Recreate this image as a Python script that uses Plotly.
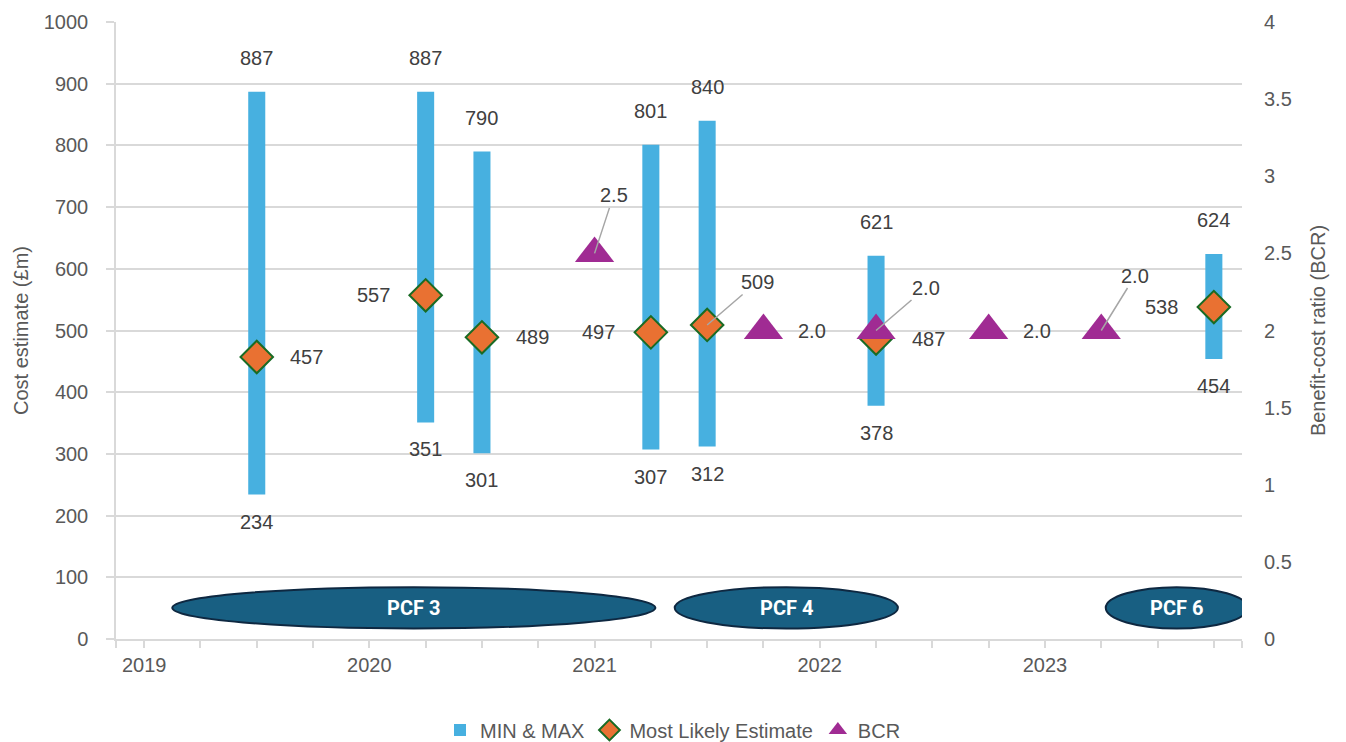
import plotly.graph_objects as go

# ---- data ---------------------------------------------------------------
# Estimate dates as decimal years (quarter steps)
estimate_x = [2019.5, 2020.25, 2020.5, 2021.25, 2021.5, 2022.25, 2023.75]
cost_min = [234, 351, 301, 307, 312, 378, 454]
cost_max = [887, 887, 790, 801, 840, 621, 624]
most_likely = [457, 557, 489, 497, 509, 487, 538]

bcr_x = [2021.0, 2021.75, 2022.25, 2022.75, 2023.25]
bcr_values = [2.5, 2.0, 2.0, 2.0, 2.0]

year_ticks = [2019, 2020, 2021, 2022, 2023]

pcf_labels = ["PCF 3", "PCF 4", "PCF 6"]
pcf_start = [2019.125, 2021.356, 2023.27]
pcf_end = [2021.27, 2022.347, 2023.9]

# ---- styling ------------------------------------------------------------
FONT = "Liberation Sans, Arial, sans-serif"
AXIS_GREY = "#595959"
LABEL_GREY = "#404040"
GRID = "#D9D9D9"
BAR_BLUE = "#47B0E0"
ORANGE = "#E97132"
GREEN = "#196B24"
PURPLE = "#A02B93"
TEAL = "#185F82"
NAVY = "#0E2841"

X_RANGE = [2018.875, 2023.875]

# label offsets in pixels (dx, dy, leader line?)
likely_offsets = [(50, 0, False), (-52, 0, False), (51, 0, False), (-52, 0, False),
                  (50, -43, True), (52, 0, False), (-52, 0, False)]
bcr_offsets = [(19, -58, True), (49, 0, False), (50, -43, True), (48, 0, False),
               (34, -55, True)]

fig = go.Figure()

fig.add_trace(go.Bar(
    x=estimate_x,
    y=[hi - lo for lo, hi in zip(cost_min, cost_max)],
    base=cost_min,
    width=0.0757,
    marker=dict(color=BAR_BLUE, line=dict(width=0)),
    name="MIN & MAX",
    hoverinfo="skip",
))

fig.add_trace(go.Scatter(
    x=estimate_x, y=most_likely,
    mode="markers",
    marker=dict(symbol="diamond", size=25, color=ORANGE,
                line=dict(color=GREEN, width=2)),
    name="Most Likely Estimate",
    hoverinfo="skip",
))

fig.add_trace(go.Scatter(
    x=bcr_x, y=bcr_values,
    yaxis="y2",
    mode="markers",
    marker=dict(symbol="triangle-up", size=34, color=PURPLE,
                line=dict(width=0)),
    name="BCR",
    hoverinfo="skip",
))

annotations = []
label_font = dict(family=FONT, size=20, color=LABEL_GREY)

# min / max labels on the range bars
for x, lo, hi in zip(estimate_x, cost_min, cost_max):
    annotations.append(dict(x=x, y=hi, xref="x", yref="y", text=str(hi),
                            showarrow=False, yshift=34, font=label_font))
    annotations.append(dict(x=x, y=lo, xref="x", yref="y", text=str(lo),
                            showarrow=False, yshift=-27, font=label_font))


def point_label(x, y, text, off, yref):
    dx, dy, leader = off
    if leader:
        return dict(x=x, y=y, xref="x", yref=yref, text=text, font=label_font,
                    showarrow=True, arrowhead=0, arrowwidth=1.5,
                    arrowcolor="#A6A6A6", ax=dx, ay=dy, standoff=0)
    return dict(x=x, y=y, xref="x", yref=yref, text=text, font=label_font,
                showarrow=False, xshift=dx, yshift=-dy)


for x, v, off in zip(estimate_x, most_likely, likely_offsets):
    annotations.append(point_label(x, v, str(v), off, "y"))

for x, v, off in zip(bcr_x, bcr_values, bcr_offsets):
    annotations.append(point_label(x, v, f"{v:.1f}", off, "y2"))

# control-period ellipses
shapes = []
for name, x0, x1 in zip(pcf_labels, pcf_start, pcf_end):
    shapes.append(dict(type="circle", xref="x", yref="y",
                       x0=x0, x1=x1, y0=17, y1=84,
                       fillcolor=TEAL, line=dict(color=NAVY, width=2),
                       layer="above"))
    annotations.append(dict(x=(x0 + x1) / 2, y=50.5, xref="x", yref="y",
                            text=f"<b>{name}</b>", showarrow=False,
                            font=dict(family="Liberation Sans Narrow, Roboto, Arial",
                                      size=20, color="white")))

minor_ticks = [X_RANGE[0]] + [y + q for y in range(2019, 2024) for q in (0.25, 0.5, 0.75)] + [X_RANGE[1]]

fig.update_layout(
    width=1346, height=742,
    margin=dict(l=116, r=104, t=22, b=103, autoexpand=False),
    paper_bgcolor="white", plot_bgcolor="white",
    font=dict(family=FONT, size=20, color=AXIS_GREY),
    barmode="overlay",
    showlegend=True,
    legend=dict(orientation="h", x=0.5, xanchor="center", xref="container",
                y=1 - 730 / 742, yanchor="middle", yref="container",
                font=dict(family=FONT, size=20, color=AXIS_GREY),
                itemwidth=30, traceorder="normal"),
    xaxis=dict(
        range=X_RANGE, tickmode="array", tickvals=year_ticks,
        ticktext=[str(y) for y in year_ticks],
        showgrid=False, zeroline=False,
        showline=True, linecolor=GRID, linewidth=1.5,
        ticks="outside", ticklen=7, tickcolor=GRID, tickwidth=1.5,
        minor=dict(tickvals=minor_ticks, ticks="outside", ticklen=7,
                   tickcolor=GRID, tickwidth=1.5, showgrid=False),
        tickfont=dict(size=20, color=AXIS_GREY),
        fixedrange=True,
    ),
    yaxis=dict(
        range=[0, 1000], tickmode="linear", tick0=0, dtick=100,
        showgrid=True, gridcolor=GRID, gridwidth=1.5,
        zeroline=False,
        showline=True, linecolor=GRID, linewidth=1.5,
        ticks="outside", ticklen=8, tickcolor=GRID, tickwidth=1.5,
        ticklabelstandoff=14,
        tickfont=dict(size=20, color=AXIS_GREY),
        title=dict(text="Cost estimate (£m)", standoff=10,
                   font=dict(size=20, color=AXIS_GREY)),
        fixedrange=True,
    ),
    yaxis2=dict(
        range=[0, 4], tickmode="linear", tick0=0, dtick=0.5,
        overlaying="y", side="right",
        showgrid=False, zeroline=False, showline=False,
        ticks="", ticklabelstandoff=21,
        tickfont=dict(size=20, color=AXIS_GREY),
        title=dict(text="Benefit-cost ratio (BCR)", standoff=20,
                   font=dict(size=20, color=AXIS_GREY)),
        fixedrange=True,
    ),
    annotations=annotations,
    shapes=shapes,
)

fig.write_html("out.html")
